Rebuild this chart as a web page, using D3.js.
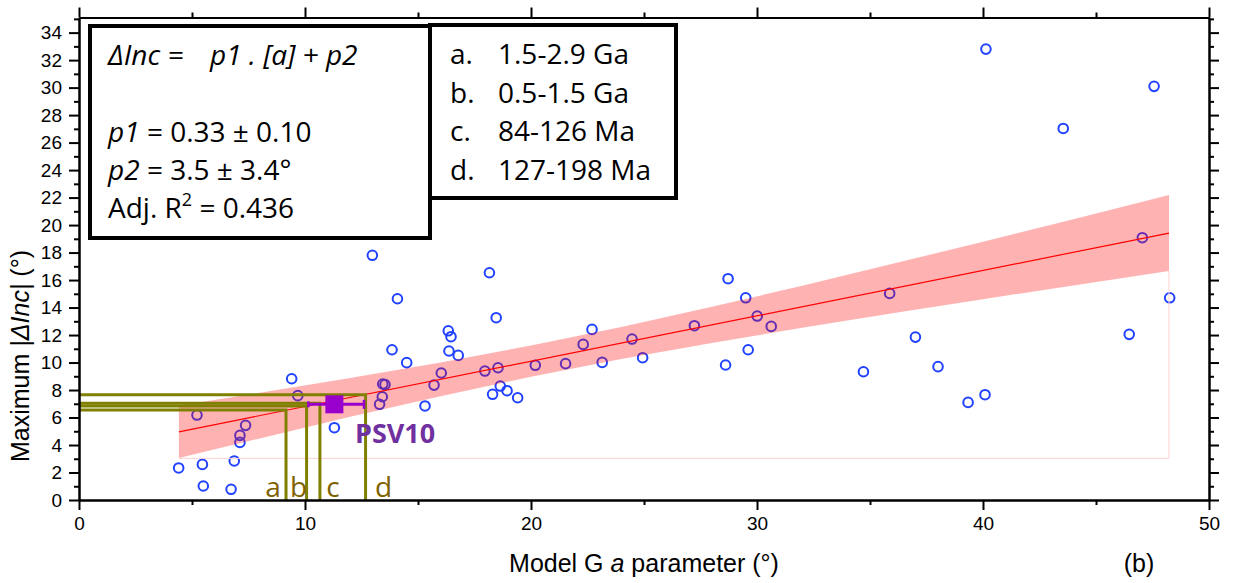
<!DOCTYPE html>
<html>
<head>
<meta charset="utf-8">
<script src="https://cdn.jsdelivr.net/npm/d3@7"></script>
<style>
  body { margin: 0; background: #fff; }
  svg { display: block; }
</style>
</head>
<body>
<svg id="chart" width="1237" height="583"></svg>
<script>
// Model G "a" parameter (°) for each locality
const aParam = [12.98, 18.16, 14.09, 18.46, 16.34, 16.46, 13.85, 16.37, 16.78, 14.5,
  22.7, 22.31, 24.47, 24.94, 23.15, 21.53, 20.19, 18.54, 17.96, 16.03,
  15.71, 18.64, 18.94, 18.3, 19.41, 15.31, 13.44, 13.54, 13.42, 13.3,
  11.3, 9.41, 9.68, 5.22, 7.37, 7.12, 7.12, 4.41, 5.46, 6.87,
  5.5, 6.73, 27.23, 28.72, 29.5, 30.01, 30.63, 28.61, 29.61, 34.71,
  35.87, 37.01, 38.01, 39.34, 40.09, 46.47, 48.26, 40.13, 47.57, 43.55,
  47.05];
// Maximum |ΔInc| (°) for the same localities
const maxDInc = [17.8, 16.53, 14.64, 13.26, 12.31, 11.88, 10.93, 10.84, 10.52, 9.99,
  12.41, 11.32, 11.71, 10.35, 10.01, 9.92, 9.8, 9.62, 9.38, 9.24,
  8.36, 8.29, 7.95, 7.69, 7.44, 6.84, 8.44, 8.4, 7.51, 6.96,
  5.26, 8.82, 7.59, 6.18, 5.43, 4.7, 4.19, 2.33, 2.59, 2.84,
  1.02, 0.78, 12.68, 16.1, 14.71, 13.38, 12.63, 9.82, 10.93, 9.33,
  15.03, 11.85, 9.7, 7.1, 7.66, 12.05, 14.71, 32.8, 30.09, 27.03,
  19.08];

// Linear fit ΔInc = p1·a + p2 and its confidence band
const fitP1 = 0.33;
const fitP2 = 3.5;
const bandA     = [4.42, 8, 12, 16, 20, 24, 28, 32, 36, 40, 44, 48.23];
const bandUpper = [6.87, 7.80, 8.87, 10.01, 11.24, 12.59, 14.05, 15.59, 17.18, 18.79, 20.43, 22.18];
const bandLower = [3.05, 4.48, 6.05, 7.55, 8.96, 10.25, 11.43, 12.53, 13.59, 14.61, 15.61, 16.66];
const bandFloor = 3.03;

// Age-window values
const ageKeys   = ["a", "b", "c", "d"];
const ageRanges = ["1.5-2.9 Ga", "0.5-1.5 Ga", "84-126 Ma", "127-198 Ma"];
const ageA      = [9.16, 10.07, 10.66, 12.68];
const ageInc    = [6.55, 6.84, 7.03, 7.66];

// PSV10 estimate with its range in a
const psvA = 11.3, psvInc = 6.96, psvALow = 10.15, psvAHigh = 12.61;

// Axis ticks
const xMajor = [0, 10, 20, 30, 40, 50];
const xMinor = [5, 15, 25, 35, 45];
const yMajor = [0, 2, 4, 6, 8, 10, 12, 14, 16, 18, 20, 22, 24, 26, 28, 30, 32, 34];
const yMinor = [1, 3, 5, 7, 9, 11, 13, 15, 17, 19, 21, 23, 25, 27, 29, 31, 33, 35];

const svg = d3.select("#chart");
const x = d3.scaleLinear().domain([0, 50]).range([79, 1209]);
const y = d3.scaleLinear().domain([0, 35.1]).range([500, 17.5]);

const axisFont = "'Liberation Sans', Arial, sans-serif";
const boxFont = "'Open Sans', sans-serif";

// data points
svg.append("g")
  .selectAll("circle")
  .data(aParam.map((a, i) => [a, maxDInc[i]]))
  .join("circle")
  .attr("cx", d => x(d[0]))
  .attr("cy", d => y(d[1]))
  .attr("r", 4.8)
  .attr("fill", "none")
  .attr("stroke", "#2142ff")
  .attr("stroke-width", 2);

// confidence band (translucent, drawn over the points)
const band = d3.area()
  .x(d => x(d.a))
  .y0(d => y(d.lo))
  .y1(d => y(d.hi));
svg.append("path")
  .datum(bandA.map((a, i) => ({ a, lo: bandLower[i], hi: bandUpper[i] })))
  .attr("d", band)
  .attr("fill", "#ff0000")
  .attr("fill-opacity", 0.3);

// faint closing edge of the band
svg.append("path")
  .attr("d", `M${x(bandA[0])},${y(bandFloor)}H${x(bandA[bandA.length - 1])}V${y(bandLower[bandLower.length - 1])}`)
  .attr("fill", "none")
  .attr("stroke", "#ffd2d2")
  .attr("stroke-width", 1);

// fit line
const aEnds = [bandA[0], bandA[bandA.length - 1]];
svg.append("path")
  .datum(aEnds)
  .attr("d", d3.line().x(a => x(a)).y(a => y(fitP1 * a + fitP2)))
  .attr("fill", "none")
  .attr("stroke", "#ff0000")
  .attr("stroke-width", 1.2);

// age-window guide lines
const guides = svg.append("g");
ageKeys.forEach((k, i) => {
  guides.append("path")
    .attr("d", `M${x(0)},${y(ageInc[i])}H${x(ageA[i])}V${y(0)}`)
    .attr("fill", "none")
    .attr("stroke", "#808000")
    .attr("stroke-width", 3);
});
const labelShift = [-13, -8, 13, 18];
ageKeys.forEach((k, i) => {
  guides.append("text")
    .attr("x", x(ageA[i]) + labelShift[i])
    .attr("y", 497)
    .attr("text-anchor", "middle")
    .attr("font-family", boxFont)
    .attr("font-size", 28)
    .attr("fill", "#7f6200")
    .text(k);
});

// PSV10 point with horizontal error bar
const psv = svg.append("g");
const py = y(psvInc);
psv.append("line")
  .attr("x1", x(psvALow)).attr("x2", x(psvAHigh))
  .attr("y1", py).attr("y2", py)
  .attr("stroke", "#9900cc").attr("stroke-width", 3);
psv.append("line")
  .attr("x1", x(psvALow)).attr("x2", x(psvALow))
  .attr("y1", py - 3).attr("y2", py + 3)
  .attr("stroke", "#9900cc").attr("stroke-width", 2.5);
psv.append("line")
  .attr("x1", x(psvAHigh)).attr("x2", x(psvAHigh))
  .attr("y1", py - 4.5).attr("y2", py + 4.5)
  .attr("stroke", "#9900cc").attr("stroke-width", 2.5);
psv.append("rect")
  .attr("x", x(psvA) - 9).attr("y", py - 9)
  .attr("width", 18).attr("height", 18)
  .attr("fill", "#9900cc");
psv.append("text")
  .attr("x", 355).attr("y", 443)
  .attr("font-family", boxFont)
  .attr("font-weight", 700)
  .attr("font-size", 27)
  .attr("fill", "#7030a0")
  .text("PSV10");

// axes
function styleAxis(g) {
  g.select(".domain").attr("stroke", "#000").attr("stroke-width", 2);
  g.selectAll(".tick line").attr("stroke", "#000").attr("stroke-width", 2);
  g.selectAll(".tick text")
    .attr("font-family", axisFont)
    .attr("font-size", 19)
    .attr("fill", "#000");
}
const noLabel = () => "";

svg.append("g").attr("transform", `translate(0,${y(0)})`)
  .call(d3.axisBottom(x).tickValues(xMajor).tickSize(10).tickSizeOuter(0).tickPadding(7).tickFormat(d3.format("d")))
  .call(styleAxis);
svg.append("g").attr("transform", `translate(0,${y(0)})`)
  .call(d3.axisBottom(x).tickValues(xMinor).tickSize(5).tickSizeOuter(0).tickFormat(noLabel))
  .call(styleAxis);

svg.append("g").attr("transform", `translate(0,${y.range()[1]})`)
  .call(d3.axisTop(x).tickValues(xMajor).tickSize(10).tickSizeOuter(0).tickFormat(noLabel))
  .call(styleAxis);
svg.append("g").attr("transform", `translate(0,${y.range()[1]})`)
  .call(d3.axisTop(x).tickValues(xMinor).tickSize(5).tickSizeOuter(0).tickFormat(noLabel))
  .call(styleAxis);

svg.append("g").attr("transform", `translate(${x(0)},0)`)
  .call(d3.axisLeft(y).tickValues(yMajor).tickSize(10).tickSizeOuter(0).tickPadding(7).tickFormat(d3.format("d")))
  .call(styleAxis);
svg.append("g").attr("transform", `translate(${x(0)},0)`)
  .call(d3.axisLeft(y).tickValues(yMinor).tickSize(5).tickSizeOuter(0).tickFormat(noLabel))
  .call(styleAxis);

svg.append("g").attr("transform", `translate(${x(50)},0)`)
  .call(d3.axisRight(y).tickValues(yMajor).tickSize(10).tickSizeOuter(0).tickFormat(noLabel))
  .call(styleAxis);
svg.append("g").attr("transform", `translate(${x(50)},0)`)
  .call(d3.axisRight(y).tickValues(yMinor).tickSize(5).tickSizeOuter(0).tickFormat(noLabel))
  .call(styleAxis);

// axis titles
const xTitle = svg.append("text")
  .attr("x", 644).attr("y", 572)
  .attr("text-anchor", "middle")
  .attr("font-family", axisFont)
  .attr("font-size", 25);
xTitle.append("tspan").text("Model G ");
xTitle.append("tspan").attr("font-style", "italic").text("a");
xTitle.append("tspan").text(" parameter (°)");

svg.append("text")
  .attr("x", 1139).attr("y", 572)
  .attr("text-anchor", "middle")
  .attr("font-family", axisFont)
  .attr("font-size", 25)
  .text("(b)");

const yTitle = svg.append("text")
  .attr("transform", "translate(29,356) rotate(-90)")
  .attr("text-anchor", "middle")
  .attr("font-family", axisFont)
  .attr("font-size", 25);
yTitle.append("tspan").text("Maximum ");
yTitle.append("tspan").attr("font-style", "italic").text("|ΔInc|");
yTitle.append("tspan").text(" (°)");

// equation box
svg.append("rect")
  .attr("x", 90).attr("y", 26).attr("width", 340).attr("height", 212)
  .attr("fill", "#fff").attr("stroke", "#000").attr("stroke-width", 4);

const eq = svg.append("g")
  .attr("font-family", boxFont)
  .attr("font-size", 28)
  .attr("fill", "#000");
eq.append("text").attr("x", 108).attr("y", 65).attr("font-style", "italic").text("ΔInc =");
eq.append("text").attr("x", 210).attr("y", 65).attr("font-style", "italic").text("p1 . [a] + p2");

const l1 = eq.append("text").attr("x", 108).attr("y", 142);
l1.append("tspan").attr("font-style", "italic").text("p1");
l1.append("tspan").text(` = ${fitP1.toFixed(2)} ± 0.10`);

const l2 = eq.append("text").attr("x", 108).attr("y", 180);
l2.append("tspan").attr("font-style", "italic").text("p2");
l2.append("tspan").text(` = ${fitP2.toFixed(1)} ± 3.4°`);

const l3 = eq.append("text").attr("x", 108).attr("y", 218);
l3.append("tspan").text("Adj. R");
l3.append("tspan").attr("font-size", 18).attr("dy", -12).text("2");
l3.append("tspan").attr("dy", 12).text(" = 0.436");

// age key box
svg.append("rect")
  .attr("x", 430).attr("y", 25).attr("width", 246).attr("height", 173)
  .attr("fill", "#fff").attr("stroke", "#000").attr("stroke-width", 4);

const key = svg.append("g")
  .attr("font-family", boxFont)
  .attr("font-size", 28)
  .attr("fill", "#000");
ageKeys.forEach((k, i) => {
  const by = 64 + i * 38.6;
  key.append("text").attr("x", 450).attr("y", by).text(k + ".");
  key.append("text").attr("x", 498).attr("y", by).text(ageRanges[i]);
});
</script>
</body>
</html>
